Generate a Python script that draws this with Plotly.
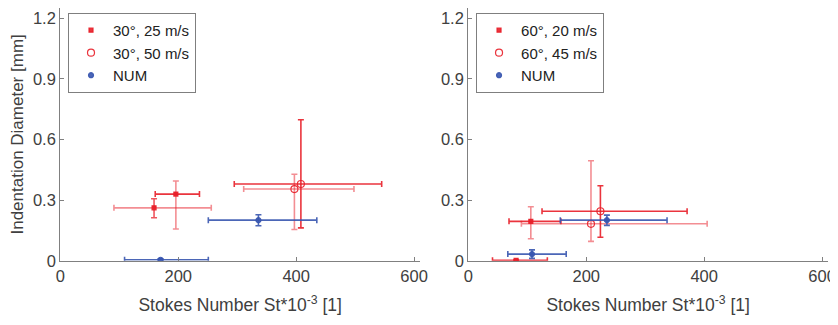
import plotly.graph_objects as go

# ---------------- data ----------------
# Left panel (30 deg)
s25_x = [159, 196]
s25_y = [0.262, 0.330]
s25_xlo = [91, 161]
s25_xhi = [256, 236]
s25_ylo = [0.213, 0.157]
s25_yhi = [0.307, 0.395]

s50_x = [397, 408]
s50_y = [0.355, 0.380]
s50_xlo = [311, 295]
s50_xhi = [498, 545]
s50_ylo = [0.155, 0.163]
s50_yhi = [0.428, 0.698]

numL_x = [336, 170]
numL_y = [0.201, 0.005]
numL_xlo = [251, 109]
numL_xhi = [435, 251]
numL_ylo = [0.173, 0.0]
numL_yhi = [0.228, 0.010]

# Right panel (60 deg)
s20_x = [106, 81]
s20_y = [0.195, 0.002]
s20_xlo = [69, 41]
s20_xhi = [157, 134]
s20_ylo = [0.109, 0.0]
s20_yhi = [0.267, 0.004]

s45_x = [208, 224]
s45_y = [0.183, 0.245]
s45_xlo = [90, 125]
s45_xhi = [405, 371]
s45_ylo = [0.096, 0.116]
s45_yhi = [0.495, 0.371]

numR_x = [235, 108]
numR_y = [0.201, 0.033]
numR_xlo = [156, 67]
numR_xhi = [337, 166]
numR_ylo = [0.175, 0.012]
numR_yhi = [0.226, 0.054]

x_ticks = [0, 200, 400, 600]
y_ticks = [0, 0.3, 0.6, 0.9, 1.2]
y_tick_text = ["0", "0.3", "0.6", "0.9", "1.2"]

# ---------------- styles ----------------
RED = (232, 30, 40)
BLUE = (55, 85, 175)
# per-point (horizontal alpha, vertical alpha)
alpha_s25 = [(0.5, 0.75), (0.9, 0.5)]
alpha_s50 = [(0.5, 0.5), (0.9, 0.9)]
alpha_s20 = [(0.9, 0.5), (0.9, 0.9)]
alpha_s45 = [(0.5, 0.5), (0.9, 0.9)]
alpha_num = [(0.9, 0.9), (0.9, 0.9)]


def rgba(c, a):
    return f"rgba({c[0]},{c[1]},{c[2]},{a})"


fig = go.Figure()


def add_series(name, xs, ys, xlo, xhi, ylo, yhi, color, alphas, marker, xa, ya, legend):
    mk = dict(color=rgba(color, 0.9), symbol=marker["symbol"], size=marker["size"],
              line=dict(color=rgba(color, 0.9), width=1.2))
    for i in range(len(xs)):
        ah, av = alphas[i]
        fig.add_trace(go.Scatter(
            x=[xs[i]], y=[ys[i]], mode="markers", name=name,
            showlegend=False, xaxis=xa, yaxis=ya, marker=mk,
            error_x=dict(type="data", symmetric=False,
                         array=[xhi[i] - xs[i]], arrayminus=[xs[i] - xlo[i]],
                         color=rgba(color, ah), thickness=1.6, width=3),
            error_y=dict(type="data", symmetric=False,
                         array=[yhi[i] - ys[i]], arrayminus=[ys[i] - ylo[i]],
                         color=rgba(color, av), thickness=1.6, width=3),
        ))
    # legend entry
    fig.add_trace(go.Scatter(x=[None], y=[None], mode="markers", name=name, legend=legend,
                             showlegend=True, xaxis=xa, yaxis=ya, marker=mk))


filled = dict(symbol="square", size=4)
openc = dict(symbol="circle-open", size=7)
numm = dict(symbol="circle", size=5)

add_series("30°, 25 m/s", s25_x, s25_y, s25_xlo, s25_xhi, s25_ylo, s25_yhi, RED, alpha_s25, filled, "x", "y", "legend")
add_series("30°, 50 m/s", s50_x, s50_y, s50_xlo, s50_xhi, s50_ylo, s50_yhi, RED, alpha_s50, openc, "x", "y", "legend")
add_series("NUM", numL_x, numL_y, numL_xlo, numL_xhi, numL_ylo, numL_yhi, BLUE, alpha_num, numm, "x", "y", "legend")

add_series("60°, 20 m/s", s20_x, s20_y, s20_xlo, s20_xhi, s20_ylo, s20_yhi, RED, alpha_s20, filled, "x2", "y2", "legend2")
add_series("60°, 45 m/s", s45_x, s45_y, s45_xlo, s45_xhi, s45_ylo, s45_yhi, RED, alpha_s45, openc, "x2", "y2", "legend2")
add_series("NUM", numR_x, numR_y, numR_xlo, numR_xhi, numR_ylo, numR_yhi, BLUE, alpha_num, numm, "x2", "y2", "legend2")

TXT = "#404040"
AX = "#808080"
FONT = "Liberation Sans, Arial, sans-serif"

axis_common = dict(showgrid=False, zeroline=False, showline=True, linecolor=AX, linewidth=1.3,
                   ticks="inside", ticklen=4, tickcolor=AX, tickwidth=1, automargin=False,
                   tickfont=dict(size=16.5, color=TXT, family=FONT))

xtitle = dict(text="Stokes Number St*10<sup>-3</sup> [1]", font=dict(size=17.5, color=TXT, family=FONT), standoff=15)

# page body adds an 8px offset
W, H = 830, 309

fig.update_layout(
    width=W, height=H,
    margin=dict(l=0, r=0, t=0, b=0),
    paper_bgcolor="white", plot_bgcolor="white",
    font=dict(family=FONT, color=TXT),
    xaxis=dict(domain=[0.063, 0.4964], range=[0, 610], tickvals=x_ticks, anchor="y",
               title=xtitle, **axis_common),
    yaxis=dict(domain=[0.182, 1.0], range=[0, 1.251], tickvals=y_ticks, ticktext=y_tick_text, anchor="x",
               title=dict(text="Indentation Diameter [mm]", font=dict(size=17, color=TXT, family=FONT), standoff=6),
               **axis_common),
    xaxis2=dict(domain=[0.5546, 0.988], range=[0, 610], tickvals=x_ticks, anchor="y2",
                title=xtitle, **axis_common),
    yaxis2=dict(domain=[0.182, 1.0], range=[0, 1.251], tickvals=y_ticks, ticktext=y_tick_text, anchor="x2",
                **axis_common),
    legend=dict(x=0.0723, y=0.984, xanchor="left", yanchor="top", bgcolor="white",
                bordercolor="#7f7f7f", borderwidth=1, font=dict(size=15, color="#222", family=FONT),
                tracegroupgap=0, itemwidth=34),
    legend2=dict(x=0.5639, y=0.984, xanchor="left", yanchor="top", bgcolor="white",
                 bordercolor="#7f7f7f", borderwidth=1, font=dict(size=15, color="#222", family=FONT),
                 tracegroupgap=0, itemwidth=34),
)

fig.write_html("out.html")
